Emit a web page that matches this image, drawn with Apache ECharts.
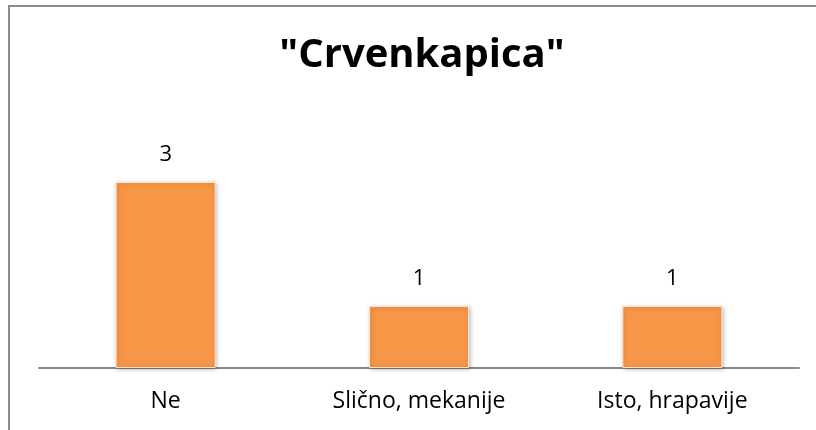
<!DOCTYPE html>
<html>
<head>
<meta charset="utf-8">
<script src="https://cdn.jsdelivr.net/npm/echarts@6/dist/echarts.min.js"></script>
<style>
html,body{margin:0;padding:0;background:#fff;}
#c{width:816px;height:430px;}
</style>
</head>
<body>
<div id="c"></div>
<script>
const titleText = '"Crvenkapica"';
const categories = ['Ne', 'Slično, mekanije', 'Isto, hrapavije'];
const values = [3, 1, 1];

const chart = echarts.init(document.getElementById('c'), null, {renderer: 'canvas'});
chart.setOption({
  animation: false,
  backgroundColor: '#ffffff',
  title: {
    text: titleText,
    left: 417,
    top: 31,
    textAlign: 'center',
    textStyle: {fontFamily: 'Open Sans', fontWeight: 'bold', fontSize: 40, color: '#000'}
  },
  graphic: [{
    type: 'rect',
    shape: {x: 9, y: 6, width: 900, height: 500},
    style: {fill: 'none', stroke: '#8c8c8c', lineWidth: 2},
    silent: true
  }],
  grid: {left: 39, right: 17, top: 182, bottom: 62, containLabel: false},
  xAxis: {
    type: 'category',
    data: categories,
    axisLine: {show: true, lineStyle: {color: '#888888', width: 2}},
    axisTick: {show: false},
    axisLabel: {fontFamily: 'Open Sans', fontSize: 23, color: '#000', margin: 22}
  },
  yAxis: {
    type: 'value', min: 0, max: 3, interval: 1,
    show: false
  },
  series: [{
    type: 'bar',
    data: values,
    barWidth: 100,
    itemStyle: {
      color: '#F79646',
      borderColor: '#fde3cf',
      borderWidth: 1,
      shadowBlur: 4,
      shadowColor: 'rgba(0,0,0,0.25)',
      shadowOffsetX: 1,
      shadowOffsetY: 1
    },
    label: {
      show: true, position: 'top', distance: 16,
      fontFamily: 'Open Sans', fontSize: 22, color: '#000'
    }
  }]
});
</script>
</body>
</html>
